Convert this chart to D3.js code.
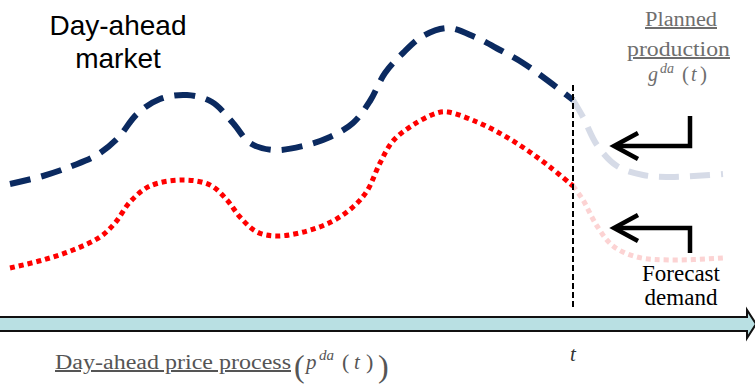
<!DOCTYPE html>
<html><head><meta charset="utf-8">
<script src="https://cdn.jsdelivr.net/npm/d3@7"></script>
<style>html,body{margin:0;padding:0;background:#fff;}svg{display:block;}</style>
</head><body>
<svg id="c" width="755" height="391"></svg>
<script>
// time axis units (0..755) and level units (0..391, up = higher)
const tNow = 573;
const productionT = [10,43,72,97,118,137,160,187,212,233,250,273,303,330,353,370,385,403,423,448,475,500,523,547,573];
const productionV = [207,215,225,236,253,277,292,296,289,268,248,241,245,254,268,290,318,338,355,363,354,341,328,311,291];
const productionFutT = [573,583,597,617,643,670,723];
const productionFutV = [291,274,246,225,216,214,217];
const demandT = [10,43,73,100,115,130,150,183,210,227,240,257,277,307,333,353,367,380,393,413,437,448,477,503,527,550,573];
const demandV = [123,131,141,154,168,189,205,211,206,191,174,159,155,160,170,184,200,228,250,266,278,279,269,256,241,224,205];
const demandFutT = [573,583,597,613,637,670,723];
const demandFutV = [205,191,165,145,134,131,133];
const titleLines = ["Day-ahead","market"];
const productionLabel = ["Planned","production"];
const demandLabel = ["Forecast","demand"];
const axisLabel = "Day-ahead price process";
const tLabel = "t";

const svg = d3.select("#c");
const x = d3.scaleLinear().domain([0,755]).range([0,755]);
const y = d3.scaleLinear().domain([0,391]).range([391,0]);
const line = d3.line().x(d=>x(d[0])).y(d=>y(d[1])).curve(d3.curveCatmullRom.alpha(0.5));
const zip = (a,b)=>a.map((v,i)=>[v,b[i]]);
const serif = "Liberation Serif, Times New Roman, serif";

// axis band arrow
const yTop = 317, yBot = 331;
svg.append("path")
  .attr("d", `M-5,${yTop} L747,${yTop} L747,310 L756,${(yTop+yBot)/2} L747,338 L747,${yBot} L-5,${yBot} Z`)
  .attr("fill","#b9e0e3").attr("stroke","#111").attr("stroke-width",2).attr("stroke-linejoin","miter");

// future (faded) lines
svg.append("path").attr("d", line(zip(productionFutT,productionFutV)))
  .attr("fill","none").attr("stroke","#d6dbe7").attr("stroke-width",6).attr("stroke-dasharray","20,11");
svg.append("path").attr("d", line(zip(demandFutT,demandFutV)))
  .attr("fill","none").attr("stroke","#fcd3d3").attr("stroke-width",5).attr("stroke-dasharray","5,4");

// main lines
svg.append("path").attr("d", line(zip(productionT,productionV)))
  .attr("fill","none").attr("stroke","#0b2a60").attr("stroke-width",6).attr("stroke-dasharray","21,11");
svg.append("path").attr("d", line(zip(demandT,demandV)))
  .attr("fill","none").attr("stroke","#ff0000").attr("stroke-width",5).attr("stroke-dasharray","5,4");

// vertical "now" line
svg.append("line").attr("x1",x(tNow)).attr("x2",x(tNow)).attr("y1",85).attr("y2",310)
  .attr("stroke","#000").attr("stroke-width",2).attr("stroke-dasharray","6,3");

// bent arrows
function bentArrow(cx, cy, vy, tipX){
  svg.append("path").attr("d",`M${cx},${vy} L${cx},${cy} L${tipX+3},${cy}`)
    .attr("fill","none").attr("stroke","#000").attr("stroke-width",4.5);
  svg.append("path").attr("d",`M${tipX+24},${cy-13} L${tipX},${cy} L${tipX+24},${cy+13}`)
    .attr("fill","none").attr("stroke","#000").attr("stroke-width",4.5).attr("stroke-linejoin","miter");
}
bentArrow(690,146,116,614);
bentArrow(690,228,253,614);

// title
svg.append("text").attr("font-family","Liberation Sans, Arial, sans-serif").attr("font-size",28)
  .attr("fill","#000").attr("text-anchor","middle")
  .selectAll("tspan").data(titleLines).join("tspan")
  .attr("x",118).attr("y",(d,i)=>35+i*33).text(d=>d);

// planned production label
const pl = svg.append("g").attr("font-family",serif).attr("fill","#6e6e6e").attr("font-size",20);
pl.append("text").attr("x",645).attr("y",26).attr("text-decoration","underline")
  .attr("textLength",72).attr("lengthAdjust","spacingAndGlyphs").text(productionLabel[0]);
pl.append("text").attr("x",627).attr("y",56).attr("text-decoration","underline")
  .attr("textLength",103).attr("lengthAdjust","spacingAndGlyphs").text(productionLabel[1]);
const g1 = pl.append("text").attr("y",81);
g1.append("tspan").attr("x",648).attr("font-style","italic").text("g");
g1.append("tspan").attr("x",660).attr("dy",-8).attr("font-size",14).attr("font-style","italic").text("da");
g1.append("tspan").attr("x",682).attr("dy",8).attr("font-size",21).text("(");
g1.append("tspan").attr("x",691).attr("font-style","italic").text("t");
g1.append("tspan").attr("x",700).attr("font-size",21).text(")");

// forecast demand label
svg.append("text").attr("font-family",serif).attr("font-size",23)
  .attr("fill","#000").attr("text-anchor","middle")
  .selectAll("tspan").data(demandLabel).join("tspan")
  .attr("x",681).attr("y",(d,i)=>281+i*24).text(d=>d);

// t label
svg.append("text").attr("x",x(tNow)-3).attr("y",361).attr("font-family",serif)
  .attr("font-style","italic").attr("font-size",21).attr("fill","#333").text(tLabel);

// axis label
const al = svg.append("g").attr("font-family",serif).attr("fill","#555");
al.append("text").attr("x",55).attr("y",369).attr("font-size",20).attr("text-decoration","underline")
  .attr("textLength",236).attr("lengthAdjust","spacingAndGlyphs").text(axisLabel);
al.append("text").attr("x",294).attr("y",377).attr("font-size",32).text("(");
const p1 = al.append("text").attr("y",369).attr("font-size",21);
p1.append("tspan").attr("x",306).attr("font-style","italic").text("p");
p1.append("tspan").attr("x",319).attr("dy",-9).attr("font-size",15).attr("font-style","italic").text("da");
p1.append("tspan").attr("x",342).attr("dy",9).attr("font-size",22).text("(");
p1.append("tspan").attr("x",354).attr("font-style","italic").text("t");
p1.append("tspan").attr("x",366).attr("font-size",22).text(")");
al.append("text").attr("x",378).attr("y",377).attr("font-size",32).text(")");
</script>
</body></html>
